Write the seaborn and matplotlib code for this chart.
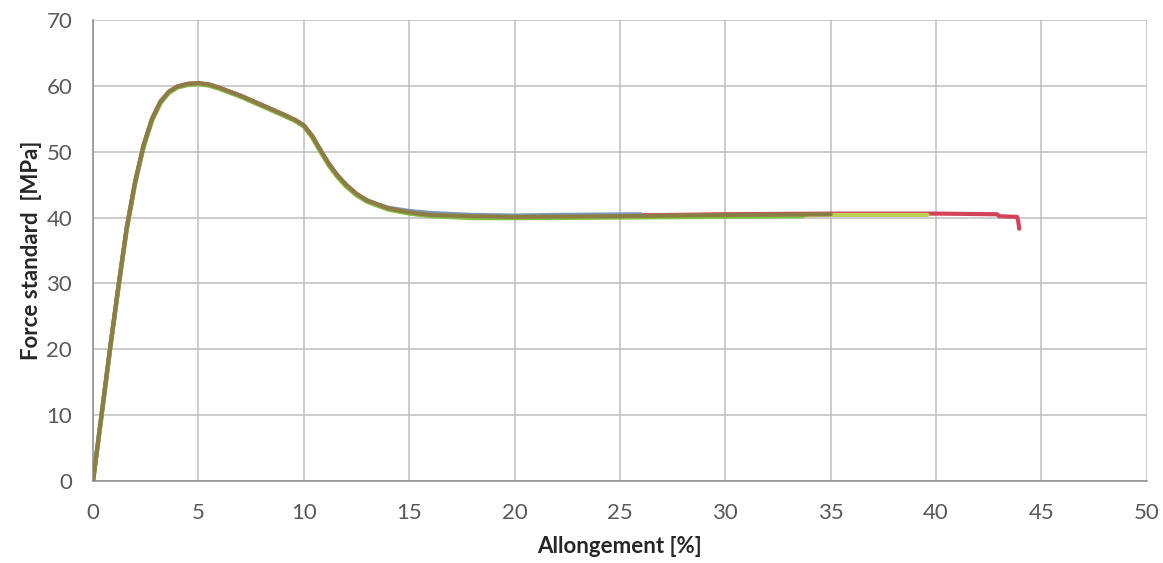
import pandas as pd
import matplotlib
matplotlib.use("Agg")
import matplotlib.pyplot as plt
import seaborn as sns

# Strain values shared by the loading part of every specimen [%]
rise_x = [0, 0.4, 0.8, 1.2, 1.6, 2.0, 2.4, 2.8, 3.2, 3.6, 4.0, 4.5, 5.0, 5.5, 6.0,
          7.0, 8.0, 9.0, 9.6, 10.0, 10.4, 10.8, 11.2, 11.6, 12.0, 12.5, 13.0,
          14.0, 15.0, 16.0, 18.0, 20.0]

# Stress per specimen over rise_x [MPa]
red_y = [0, 10, 20, 29.5, 38.5, 45.5, 51.0, 55.0, 57.6, 59.1, 59.9, 60.3, 60.4, 60.2, 59.7,
         58.5, 57.1, 55.7, 54.8, 54.0, 52.4, 50.2, 48.1, 46.4, 45.0, 43.6, 42.6,
         41.4, 40.8, 40.5, 40.2, 40.1]
yellow_y = [0, 9.6, 19.5, 29.0, 38.0, 45.0, 50.6, 54.6, 57.3, 58.9, 59.7, 60.1, 60.2, 60.0, 59.5,
            58.3, 56.9, 55.5, 54.6, 53.8, 52.1, 49.9, 47.8, 46.1, 44.7, 43.4, 42.4,
            41.3, 40.7, 40.4, 40.1, 40.0]
blue_y = [0, 9.8, 19.8, 29.3, 38.3, 45.3, 50.8, 54.8, 57.5, 59.0, 59.8, 60.2, 60.3, 60.1, 59.6,
          58.4, 57.0, 55.6, 54.7, 53.9, 52.3, 50.1, 48.0, 46.3, 44.9, 43.5, 42.5,
          41.5, 41.0, 40.7, 40.4, 40.3]
green_y = [0, 9.9, 19.9, 29.4, 38.4, 45.4, 50.9, 54.9, 57.5, 59.0, 59.8, 60.2, 60.3, 60.1, 59.6,
           58.4, 57.0, 55.6, 54.7, 53.9, 52.2, 50.0, 47.9, 46.2, 44.8, 43.4, 42.4,
           41.2, 40.6, 40.2, 39.9, 39.9]
brown_y = [0, 10, 20, 29.5, 38.5, 45.5, 51.0, 55.0, 57.6, 59.1, 59.9, 60.3, 60.4, 60.2, 59.7,
           58.5, 57.1, 55.7, 54.8, 54.0, 52.4, 50.2, 48.1, 46.4, 45.0, 43.6, 42.6,
           41.4, 40.8, 40.4, 40.2, 40.1]

# Plateau until rupture
red_tail_x = [25, 30, 35, 40, 42.9, 43.0, 43.85, 43.9, 43.95]
red_tail_y = [40.3, 40.5, 40.6, 40.6, 40.5, 40.2, 40.1, 39.5, 38.3]
yellow_tail_x = [25, 30, 35, 39.6]
yellow_tail_y = [40.2, 40.3, 40.4, 40.4]
blue_tail_x = [22, 26]
blue_tail_y = [40.4, 40.5]
green_tail_x = [25, 30, 33.7]
green_tail_y = [40.0, 40.1, 40.2]
brown_tail_x = [25, 30, 35]
brown_tail_y = [40.2, 40.4, 40.5]

series = [
    ("red", red_y, red_tail_x, red_tail_y, "#D2445A"),
    ("yellow", yellow_y, yellow_tail_x, yellow_tail_y, "#BCD05A"),
    ("blue", blue_y, blue_tail_x, blue_tail_y, "#7E99B8"),
    ("green", green_y, green_tail_x, green_tail_y, "#82C244"),
    ("brown", brown_y, brown_tail_x, brown_tail_y, "#8C7D45"),
]

sns.set_style("white")
plt.rcParams['font.family'] = ['Lato', 'DejaVu Sans']

fig = plt.figure(figsize=(11.63, 5.63), dpi=100)
ax = fig.add_axes([0.080, 0.1456, 0.906, 0.819])

for name, y, tx, ty, col in series:
    df = pd.DataFrame({"x": rise_x + tx, "y": y + ty})
    sns.lineplot(data=df, x="x", y="y", ax=ax, color=col, linewidth=3.0,
                 sort=False, estimator=None, zorder=3)

ax.set_xlim(0, 50)
ax.set_ylim(0, 70)
ax.set_xticks(range(0, 51, 5))
ax.set_yticks(range(0, 71, 10))
ax.grid(True, color="#BEBEBE", linewidth=1.1, zorder=0)
ax.set_axisbelow(True)
for s in ["top", "right"]:
    ax.spines[s].set_visible(False)
for s in ["left", "bottom"]:
    ax.spines[s].set_color("#8C8C8C")
    ax.spines[s].set_linewidth(1.1)
ax.tick_params(axis="both", direction="out", length=8, width=1.1, color="#8C8C8C",
               labelsize=16, labelcolor="#595959")
ax.tick_params(axis="x", pad=8)
ax.tick_params(axis="y", pad=7)

ax.set_xlabel("Allongement [%]", fontsize=16, fontweight="bold", color="#262626", labelpad=9)
ax.set_ylabel("Force standard  [MPa]", fontsize=16, fontweight="bold", color="#262626", labelpad=3)

fig.savefig("out.png", dpi=100)
